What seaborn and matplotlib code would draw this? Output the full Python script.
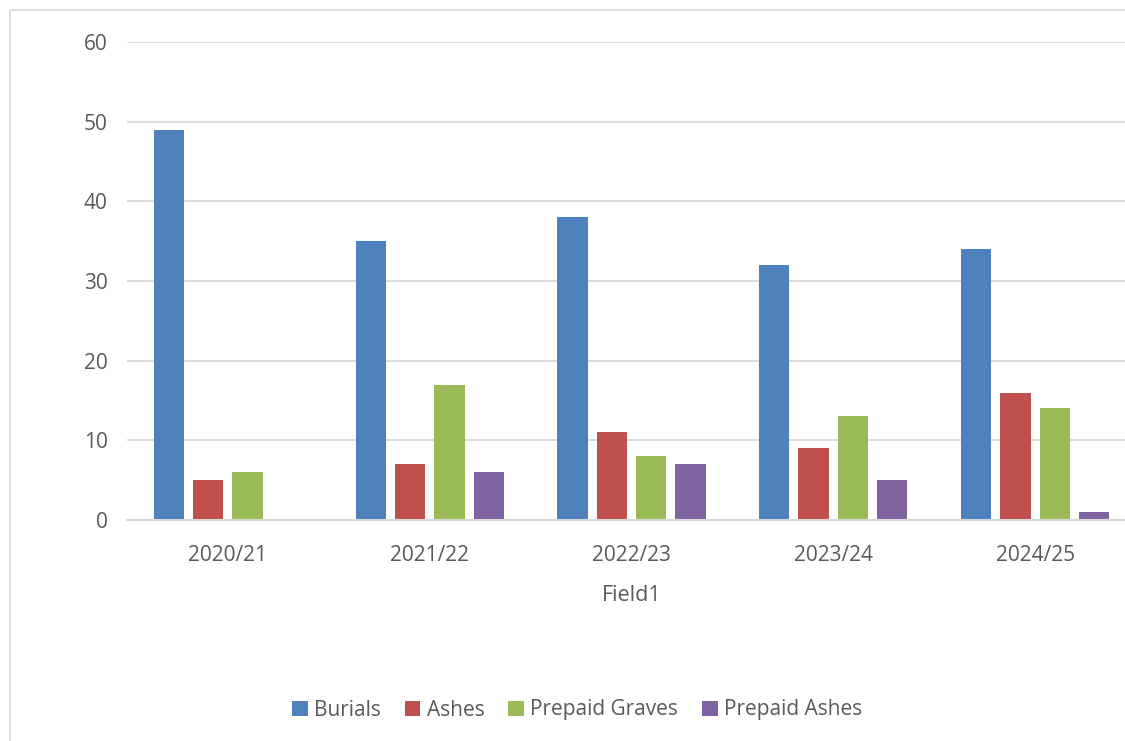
import matplotlib
matplotlib.use("Agg")
import matplotlib.pyplot as plt
import seaborn as sns
import pandas as pd
from matplotlib.patches import Rectangle

years = ["2020/21", "2021/22", "2022/23", "2023/24", "2024/25"]
series_names = ["Burials", "Ashes", "Prepaid Graves", "Prepaid Ashes"]
burials = [49, 35, 38, 32, 34]
ashes = [5, 7, 11, 9, 16]
prepaid_graves = [6, 17, 8, 13, 14]
prepaid_ashes = [0, 6, 7, 5, 1]
colors = ["#4F81BD", "#C0504D", "#9BBB59", "#8064A2"]

rows = []
for name, vals in zip(series_names, [burials, ashes, prepaid_graves, prepaid_ashes]):
    for y, v in zip(years, vals):
        rows.append({"Field1": y, "Series": name, "Value": v})
df = pd.DataFrame(rows)

sns.set_theme(style="white")
plt.rcParams['font.family'] = ['Open Sans', 'DejaVu Sans']

W, H = 1125, 741
fig = plt.figure(figsize=(W / 100, H / 100), dpi=100)
fig.patch.set_facecolor("white")

# chart border
fig.add_artist(Rectangle((10 / W, -0.1), 1.2, 1 - 10 / H + 0.1, transform=fig.transFigure,
                         fill=False, edgecolor="#D9D9D9", linewidth=1.2))

left, right = 127, 1136
top, bottom = 42, 520
ax = fig.add_axes([left / W, 1 - bottom / H, (right - left) / W, (bottom - top) / H])

sns.barplot(data=df, x="Field1", y="Value", hue="Series", hue_order=series_names,
            palette=colors, width=0.78, gap=0.23, ax=ax, errorbar=None, legend=False,
            saturation=1, linewidth=0)

ax.set_xlim(-0.5, 4.5)
ax.set_ylim(0, 60)
ax.set_yticks(range(0, 61, 10))
ax.yaxis.grid(True, color="#D9D9D9", linewidth=1.3)
ax.set_axisbelow(True)
for s in ["top", "right", "left"]:
    ax.spines[s].set_visible(False)
ax.spines["bottom"].set_color("#D9D9D9")
ax.spines["bottom"].set_linewidth(1.5)
ax.tick_params(axis="both", length=0, labelsize=15, labelcolor="#595959")
ax.tick_params(axis="y", pad=14)
ax.tick_params(axis="x", pad=18)
ax.set_ylabel("")
ax.set_xlabel("Field1", fontsize=15.5, color="#595959", labelpad=14)

handles = [Rectangle((0, 0), 1, 1, facecolor=c, edgecolor="none") for c in colors]
fig.legend(handles, series_names, loc="center", bbox_to_anchor=(0.513, 1 - 710 / H),
           ncol=4, frameon=False, fontsize=15, labelcolor="#595959",
           handlelength=0.75, handleheight=0.75, handletextpad=0.3, columnspacing=1.15)

fig.savefig("out.png", dpi=100, facecolor="white")
